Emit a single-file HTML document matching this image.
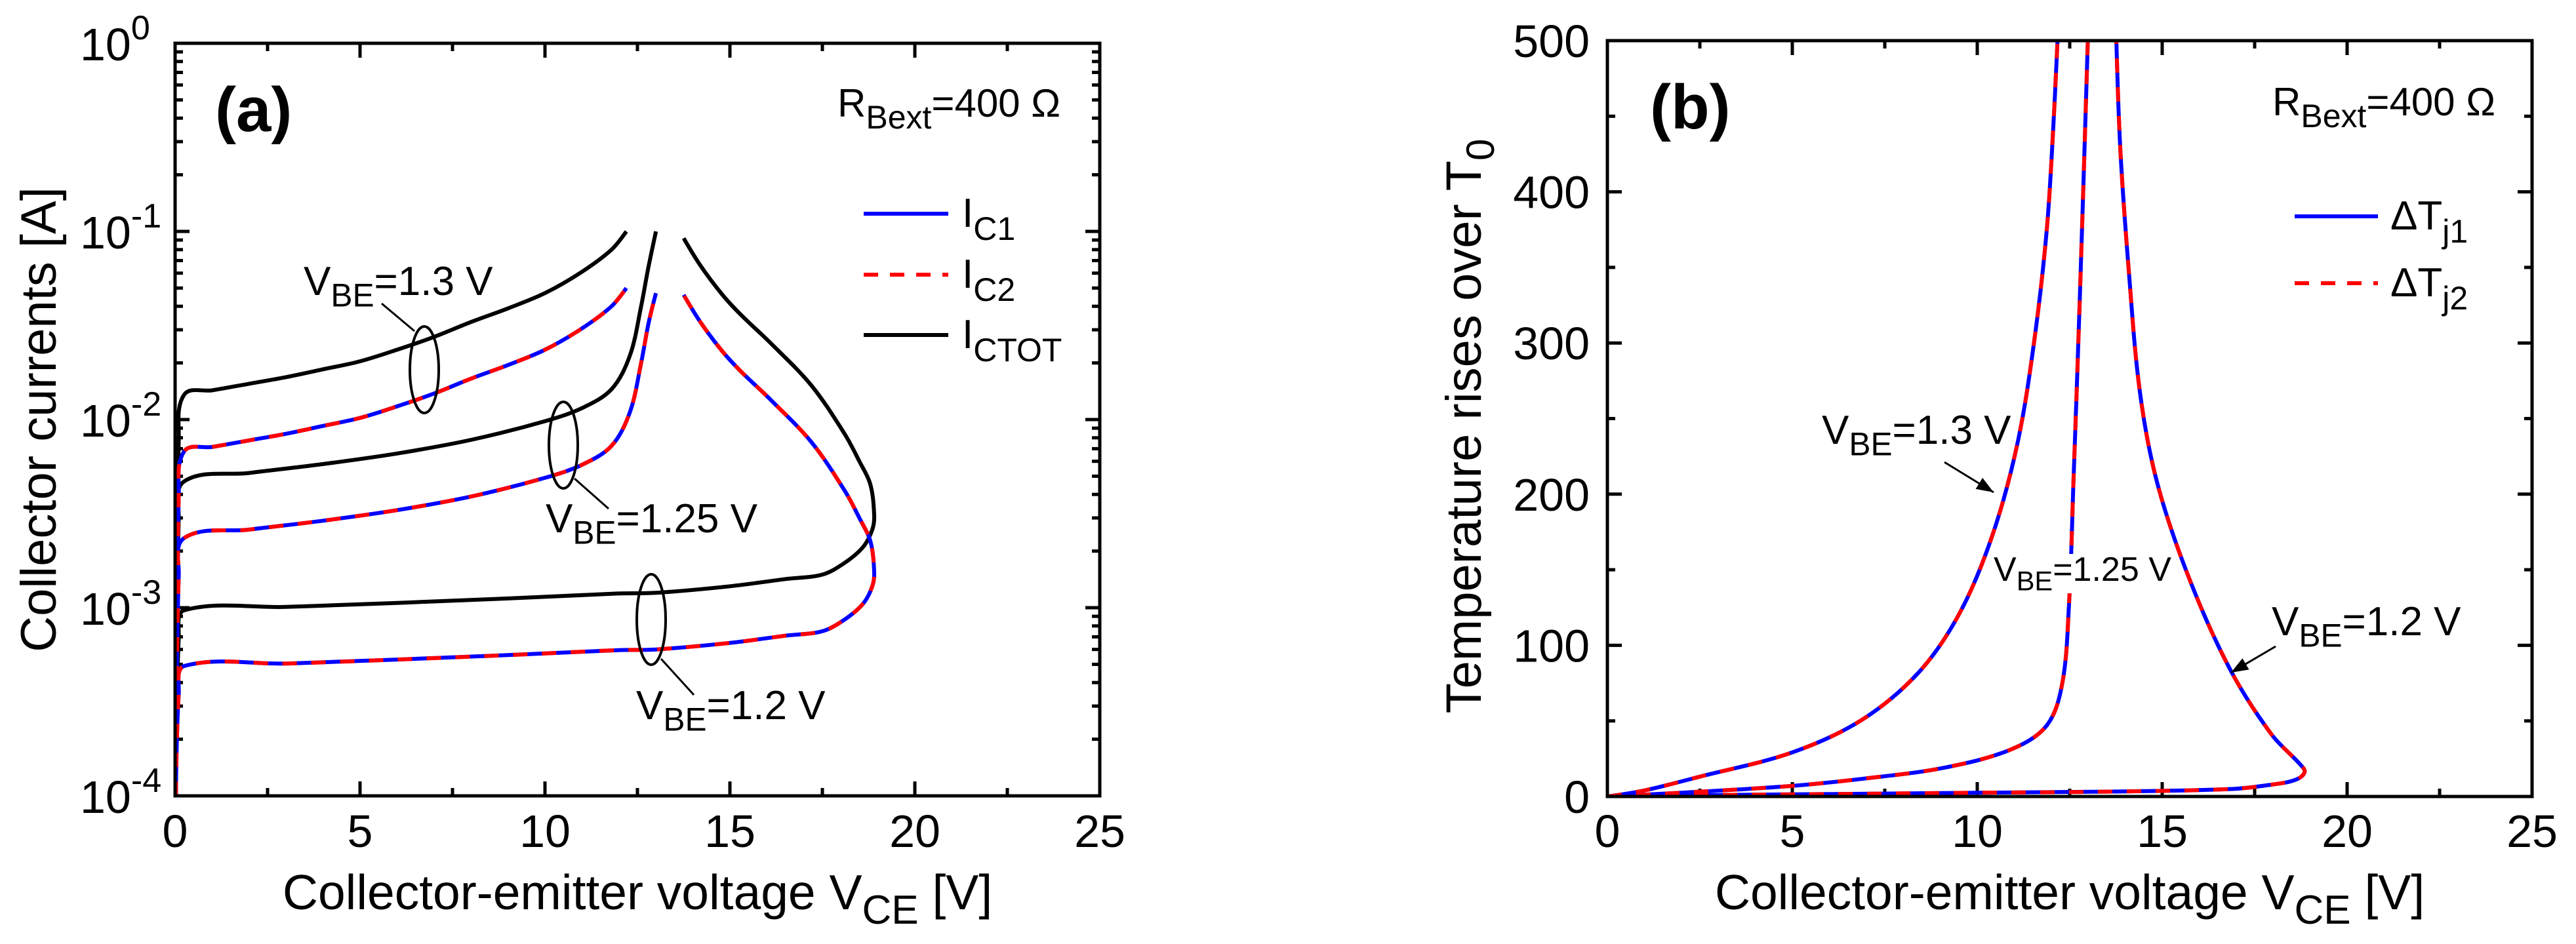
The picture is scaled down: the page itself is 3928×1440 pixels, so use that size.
<!DOCTYPE html>
<html><head><meta charset="utf-8"><style>
html,body{margin:0;padding:0;background:#fff}
svg{display:block}
text{font-family:"Liberation Sans",sans-serif;fill:#000}
</style></head><body>
<svg id="fig" width="3928" height="1440" viewBox="0 0 3928 1440" xmlns="http://www.w3.org/2000/svg">
<g id="pa"></g>
<g id="pb"></g>
</svg>
<script>
// ---------- Panel (a) data: collector currents [A] vs VCE [V] ----------
const a_itot_13 = [[0.02,1e-4],[0.1,0.008],[0.25,0.0136],[1,0.0143],[2,0.0155],[3,0.0168],[4,0.0185],[5,0.0204],[6,0.0235],[7,0.0275],[8,0.033],[9,0.039],[10,0.047],[11,0.061],[11.8,0.08],[12.2,0.1]];
const a_itot_125 = [[0.02,1e-4],[0.1,0.003],[0.25,0.0047],[2,0.0052],[4,0.0058],[6,0.0066],[8,0.0078],[10,0.0098],[11,0.0115],[11.8,0.0145],[12.3,0.022],[12.6,0.04],[12.8,0.065],[13.0,0.1]];
const a_itot_12 = [[0.02,1e-4],[0.1,0.0007],[0.25,0.00097],[3,0.00101],[6,0.00106],[9,0.00112],[12,0.00119],[13,0.0012],[15,0.0013],[16.5,0.00142],[17.5,0.0015],[18.1,0.00173],[18.6,0.0021],[18.85,0.0026],[18.9,0.0031],[18.8,0.0045],[18.5,0.006],[18.1,0.0084],[17.2,0.0152],[16.1,0.0255],[15.3,0.036],[14.8,0.046],[14.2,0.066],[13.75,0.092]];
const a_ic_13 = [[0.02,1e-4],[0.1,0.004],[0.25,0.0068],[1,0.00715],[2,0.00775],[3,0.0084],[4,0.00925],[5,0.0102],[6,0.01175],[7,0.01375],[8,0.0165],[9,0.0195],[10,0.0235],[11,0.0305],[11.8,0.04],[12.2,0.05]];
const a_ic_125 = [[0.02,1e-4],[0.1,0.0015],[0.25,0.00235],[2,0.0026],[4,0.0029],[6,0.0033],[8,0.0039],[10,0.0049],[11,0.00575],[11.8,0.00725],[12.3,0.011],[12.6,0.02],[12.8,0.0325],[13.0,0.047]];
const a_ic_12 = [[0.02,1e-4],[0.1,0.00035],[0.25,0.00049],[3,0.000505],[6,0.00053],[9,0.00056],[12,0.000595],[13,0.0006],[15,0.00065],[16.5,0.00071],[17.5,0.00075],[18.1,0.000865],[18.6,0.00105],[18.85,0.0013],[18.9,0.00155],[18.8,0.00225],[18.5,0.003],[18.1,0.0042],[17.2,0.0076],[16.1,0.01275],[15.3,0.018],[14.8,0.023],[14.2,0.033],[13.75,0.046]];
const a_xticks = [0,5,10,15,20,25];
const a_ydecades = [-4,-3,-2,-1,0];

// ---------- Panel (b) data: temperature rise [K] vs VCE [V] ----------
const b_t_13 = [[0,0],[1,4],[2.48,13],[4.98,29],[6.9,51],[8.45,83],[9.56,123],[10.44,175],[11.1,235],[11.55,303],[11.88,375],[12.05,440],[12.17,500]];
const b_t_125 = [[0,0],[2,2.5],[4.98,7],[7,12],[9.1,19],[10.9,31],[11.88,47],[12.3,75],[12.48,127],[12.6,207],[12.77,327],[12.99,500]];
const b_t_12 = [[0,0],[3,1],[6,1.6],[10,2.5],[13.5,3.2],[16.9,5],[18.0,8],[18.6,11],[18.85,16],[18.74,21],[17.96,41],[16.86,83],[15.75,143],[14.87,207],[14.4,267],[14.1,347],[13.87,427],[13.76,500]];
const b_xticks = [0,5,10,15,20,25];
const b_yticks = [0,100,200,300,400,500];

const NS="http://www.w3.org/2000/svg";
function el(tag,attrs,parent){const e=document.createElementNS(NS,tag);for(const k in attrs)e.setAttribute(k,attrs[k]);parent.appendChild(e);return e;}
function txt(parent,x,y,size,anchor,weight){
  const t=document.createElementNS(NS,'text');
  t.setAttribute('x',x);t.setAttribute('y',y);
  t.setAttribute('font-size',size);t.setAttribute('text-anchor',anchor||'start');
  if(weight)t.setAttribute('font-weight',weight);
  parent.appendChild(t);return t;
}
function tsp(t,s,dy,size){const e=document.createElementNS(NS,'tspan');e.textContent=s;if(dy)e.setAttribute('dy',dy);if(size)e.setAttribute('font-size',size);t.appendChild(e);return e;}
// chord-length-weighted smooth path through pixel points (limits overshoot)
function smooth(P){
  const dist=(a,b)=>Math.hypot(b[0]-a[0],b[1]-a[1])||1e-6;
  const T=P.map((p,i)=>{
    if(i===0||i===P.length-1)return [0,0];
    const a=P[i-1],b=P[i+1];const d=dist(a,b);
    return [(b[0]-a[0])/d,(b[1]-a[1])/d];
  });
  let d='M'+P[0][0].toFixed(1)+','+P[0][1].toFixed(1);
  for(let i=0;i<P.length-1;i++){
    const p1=P[i],p2=P[i+1];const L=dist(p1,p2)/3;
    const c1=[p1[0]+T[i][0]*L,p1[1]+T[i][1]*L];
    const c2=[p2[0]-T[i+1][0]*L,p2[1]-T[i+1][1]*L];
    d+=' C'+c1[0].toFixed(1)+','+c1[1].toFixed(1)+' '+c2[0].toFixed(1)+','+c2[1].toFixed(1)+' '+p2[0].toFixed(1)+','+p2[1].toFixed(1);
  }
  return d;
}

// ================= Panel A =================
const pa=document.getElementById('pa');
const A={x0:267,x1:1677,y0:1214,y1:66};
const ax=v=>A.x0+(v-0)/(25-0)*(A.x1-A.x0);
const ay=i=>A.y0-(Math.log10(i)-(-4))/(0-(-4))*(A.y0-A.y1);
function pathA(d){return smooth(d.map(p=>[ax(p[0]),ay(p[1])]));}

for(let v=0;v<=25;v+=2.5){
  const major=(v%5===0);const L=major?22:12;const x=ax(v);
  let t=el('line',{x1:x,y1:A.y0,x2:x,y2:A.y0-L,stroke:'#000','stroke-width':5},pa);
  
  el('line',{x1:x,y1:A.y1,x2:x,y2:A.y1+L,stroke:'#000','stroke-width':5},pa);
}
a_xticks.forEach(v=>{const t=txt(pa,ax(v),1292,70,'middle');t.textContent=v;
  });
a_ydecades.forEach(d=>{
  const y=ay(Math.pow(10,d));
  el('line',{x1:A.x0,y1:y,x2:A.x0+22,y2:y,stroke:'#000','stroke-width':5},pa);
  el('line',{x1:A.x1,y1:y,x2:A.x1-22,y2:y,stroke:'#000','stroke-width':5},pa);
  const t=txt(pa,122,y+26,70,'start');
  
  tsp(t,'10');
  tsp(t,String(d),-32,52);
  if(d<0){for(let m=2;m<=9;m++){const ym=ay(m*Math.pow(10,d));
    el('line',{x1:A.x0,y1:ym,x2:A.x0+12,y2:ym,stroke:'#000','stroke-width':5},pa);
    el('line',{x1:A.x1,y1:ym,x2:A.x1-12,y2:ym,stroke:'#000','stroke-width':5},pa);}}
});
function curve(parent,d,fn,color,dash,name){
  const p=el('path',{d:fn(d),fill:'none',stroke:color,'stroke-width':6,'stroke-linejoin':'round'},parent);
  if(dash)p.setAttribute('stroke-dasharray',dash);
  
}
curve(pa,a_itot_13,pathA,'#000',null,'ictot-1.3v');
curve(pa,a_itot_125,pathA,'#000',null,'ictot-1.25v');
curve(pa,a_itot_12,pathA,'#000',null,'ictot-1.2v');
[a_ic_13,a_ic_125,a_ic_12].forEach((d,i)=>{
  const n=['1.3v','1.25v','1.2v'][i];
  curve(pa,d,pathA,'#0000ff',null,'ic1-'+n);
  curve(pa,d,pathA,'#ff0000','22 22','ic2-'+n);
});
let fr=el('rect',{x:A.x0,y:A.y1,width:A.x1-A.x0,height:A.y0-A.y1,fill:'none',stroke:'#000','stroke-width':5},pa);

[[647,564,66],[859,679,66],[993,945,69]].forEach(e=>{const q=el('ellipse',{cx:e[0],cy:e[1],rx:22,ry:e[2],fill:'none',stroke:'#000','stroke-width':4},pa);
  });
el('line',{x1:582,y1:463,x2:632,y2:505,stroke:'#000','stroke-width':3},pa);
el('line',{x1:876,y1:730,x2:928,y2:776,stroke:'#000','stroke-width':3},pa);
el('line',{x1:1008,y1:1005,x2:1058,y2:1060,stroke:'#000','stroke-width':3},pa);
function vbe(parent,x,y,val,size){const s=size||62;const t=txt(parent,x,y,s,'start');tsp(t,'V');tsp(t,'BE',s*0.28,s*0.8);tsp(t,'='+val+' V',-s*0.28);
  return t;}
vbe(pa,463,450,'1.3');vbe(pa,832,812,'1.25');vbe(pa,970,1097,'1.2');
let pl=txt(pa,328,200,96,'start','bold');pl.textContent='(a)';
let rb=txt(pa,1277,178,60,'start');tsp(rb,'R');tsp(rb,'Bext',18,50);tsp(rb,'=400 Ω',-18);

const legA=el('g',{},pa);
[[326,'#0000ff',null,'C1'],[419,'#ff0000','22 18','C2'],[511,'#000',null,'CTOT']].forEach(L=>{
  const l=el('line',{x1:1317,y1:L[0],x2:1446,y2:L[0],stroke:L[1],'stroke-width':6},legA);if(L[2])l.setAttribute('stroke-dasharray',L[2]);
  
  const t=txt(legA,1467,L[0]+20,62,'start');tsp(t,'I');tsp(t,L[3],20,50);
  
});
let yl=el('text',{x:0,y:0,'font-size':76,'text-anchor':'middle',transform:'translate(85,640) rotate(-90)'},pa);
yl.textContent='Collector currents [A]';
let xl=txt(pa,972,1387,75,'middle');tsp(xl,'Collector-emitter voltage V');tsp(xl,'CE',22,62);tsp(xl,' [V]',-22);


// ================= Panel B =================
const pb=document.getElementById('pb');
const B={x0:2451,x1:3861,y0:1215,y1:62};
const bx=v=>B.x0+v/25*(B.x1-B.x0);
const by=t=>B.y0-t/500*(B.y0-B.y1);
function pathB(d){return smooth(d.map(p=>[bx(p[0]),by(p[1])]));}
for(let v=0;v<=25;v+=2.5){const major=(v%5===0);const L=major?22:12;const x=bx(v);
  let t=el('line',{x1:x,y1:B.y0,x2:x,y2:B.y0-L,stroke:'#000','stroke-width':5},pb);
  
  el('line',{x1:x,y1:B.y1,x2:x,y2:B.y1+L,stroke:'#000','stroke-width':5},pb);}
for(let tv=0;tv<=500;tv+=50){const major=(tv%100===0);const L=major?22:12;const y=by(tv);
  el('line',{x1:B.x0,y1:y,x2:B.x0+L,y2:y,stroke:'#000','stroke-width':5},pb);
  el('line',{x1:B.x1,y1:y,x2:B.x1-L,y2:y,stroke:'#000','stroke-width':5},pb);}
b_xticks.forEach(v=>{const t=txt(pb,bx(v),1292,70,'middle');t.textContent=v;});
b_yticks.forEach(v=>{const t=txt(pb,2424,by(v)+25,70,'end');t.textContent=v;});
const clipB=el('clipPath',{id:'clipb'},pb);el('rect',{x:B.x0,y:B.y1,width:B.x1-B.x0,height:B.y0-B.y1},clipB);
const cg=el('g',{'clip-path':'url(#clipb)'},pb);
[[b_t_13,'1.3v'],[b_t_125,'1.25v'],[b_t_12,'1.2v']].forEach(c=>{
  curve(cg,c[0],pathB,'#0000ff',null,'dtj1-'+c[1]);
  curve(cg,c[0],pathB,'#ff0000','22 22','dtj2-'+c[1]);
});
let frb=el('rect',{x:B.x0,y:B.y1,width:B.x1-B.x0,height:B.y0-B.y1,fill:'none',stroke:'#000','stroke-width':5},pb);

el('rect',{x:3035,y:845,width:215,height:60,fill:'#fff'},pb);
vbe(pb,2778,677,'1.3');
vbe(pb,3040,886,'1.25',52);
vbe(pb,3464,969,'1.2');
function arrow(x1,y1,x2,y2){el('line',{x1:x1,y1:y1,x2:x2,y2:y2,stroke:'#000','stroke-width':3},pb);
  const a=Math.atan2(y2-y1,x2-x1),L=26,w=10;
  const p=[[x2,y2],[x2-L*Math.cos(a)+w*Math.sin(a),y2-L*Math.sin(a)-w*Math.cos(a)],[x2-L*Math.cos(a)-w*Math.sin(a),y2-L*Math.sin(a)+w*Math.cos(a)]];
  const h=el('polygon',{points:p.map(q=>q.join(',')).join(' '),fill:'#000'},pb);}
arrow(2965,705,3040,751);arrow(3470,986,3402,1026);
let plb=txt(pb,2516,196,96,'start','bold');plb.textContent='(b)';
let rbb=txt(pb,3465,176,60,'start');tsp(rbb,'R');tsp(rbb,'Bext',18,50);tsp(rbb,'=400 Ω',-18);

const legB=el('g',{},pb);
[[330,'#0000ff',null,'j1'],[432,'#ff0000','22 18','j2']].forEach(L=>{
  const l=el('line',{x1:3499,y1:L[0],x2:3626,y2:L[0],stroke:L[1],'stroke-width':6},legB);if(L[2])l.setAttribute('stroke-dasharray',L[2]);
  
  const t=txt(legB,3645,L[0]+20,62,'start');tsp(t,'ΔT');tsp(t,L[3],20,50);
  
});
let ylb=el('text',{x:0,y:0,'font-size':76,'text-anchor':'middle',transform:'translate(2258,650) rotate(-90)'},pb);
tsp(ylb,'Temperature rises over T');tsp(ylb,'0',20,60);

let xlb=txt(pb,3156,1387,75,'middle');tsp(xlb,'Collector-emitter voltage V');tsp(xlb,'CE',22,62);tsp(xlb,' [V]',-22);

</script>
</body></html>
